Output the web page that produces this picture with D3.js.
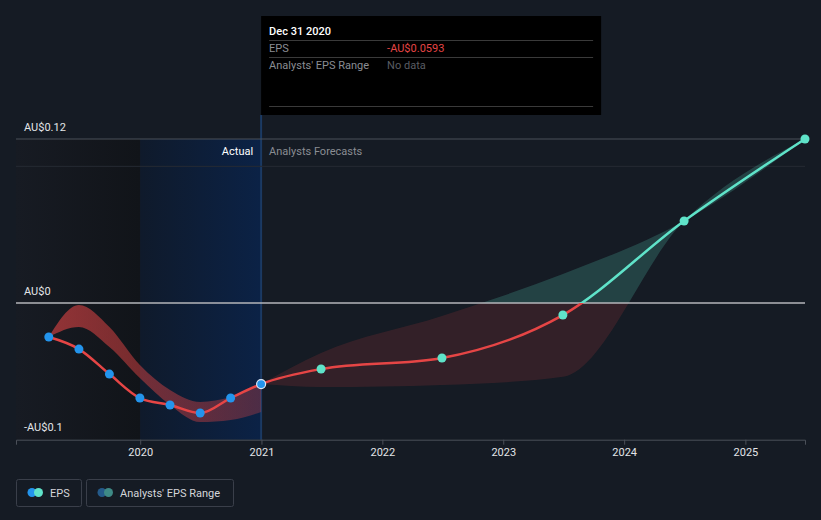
<html><head>
<meta charset="utf-8">
<title>EPS chart</title>
<style>
  body {
    margin: 0;
    background-color: #151b24;
    font-family: Roboto, "Open Sans", sans-serif;
  }
  svg { display: block; }
  .ylab { fill: #e3e5e8; font-size: 11px; }
  .legend-text { fill: #d4d6da; font-size: 11px; }
</style>
<script src="https://d3js.org/d3.v7.min.js"></script>
</head>
<body>
<svg id="chart" width="821" height="520"></svg>
<script>
// actual EPS, quarterly
const actualDates = ["2019-03-31", "2019-06-30", "2019-09-30", "2019-12-31", "2020-03-31", "2020-06-30", "2020-09-30", "2020-12-31"];
const actualEps = [-0.0249, -0.0337, -0.052, -0.0695, -0.0746, -0.0805, -0.0695, -0.0593];
const actualLow = [-0.0249, -0.0176, -0.0322, -0.0549, -0.0746, -0.0871, -0.0856, -0.0798];
const actualHigh = [-0.0249, -0.0015, -0.0176, -0.0454, -0.0637, -0.0724, -0.0688, -0.0600];

// analyst forecasts
const forecastDates = ["2020-12-31", "2021-06-30", "2022-06-30", "2023-06-30", "2024-06-30", "2025-06-30"];
const forecastEps = [-0.0593, -0.0483, -0.0402, -0.0088, 0.06, 0.12];
const forecastLow = [-0.0593, -0.0615, -0.0600, -0.0540, 0.06, 0.12];
const forecastHigh = [-0.0593, -0.0366, -0.0095, 0.0212, 0.06, 0.12];

const yTicks = [0.12, 0, -0.1];
const yTickLabels = ["AU$0.12", "AU$0", "-AU$0.1"];
const yGrid = [0.1];
const xTickYears = [2020, 2021, 2022, 2023, 2024, 2025];

const RED = "#e64545", TEAL = "#5fe3c9", BLUE = "#2394ec";
const parse = d3.timeParse("%Y-%m-%d");

const svg = d3.select("#chart");
const pL = 16, pR = 805, pT = 139, pB = 439.7;

const x = d3.scaleTime()
  .domain([parse("2018-12-22"), parse("2025-06-30")])
  .range([pL, pR]);
const y = d3.scaleLinear()
  .domain([-0.1, 0.12])
  .range([pB, pT]);

const actual = actualDates.map((d, i) => ({date: parse(d), v: actualEps[i], lo: actualLow[i], hi: actualHigh[i]}));
const forecast = forecastDates.map((d, i) => ({date: parse(d), v: forecastEps[i], lo: forecastLow[i], hi: forecastHigh[i]}));
const nowX = x(parse("2020-12-31"));
const y0 = y(0);

const defs = svg.append("defs");

function hGrad(id, stops) {
  const g = defs.append("linearGradient").attr("id", id)
    .attr("x1", "0%").attr("x2", "100%").attr("y1", "0%").attr("y2", "0%");
  stops.forEach(s => g.append("stop").attr("offset", s[0]).attr("stop-color", s[1]).attr("stop-opacity", s[2]));
}
hGrad("pastGrad", [["0%", "#171b23", 1], ["100%", "#111419", 1]]);
hGrad("actualGrad", [["0%", "#0f1a2b", 1], ["100%", "#0b2246", 1]]);
hGrad("bandGrad", [["0%", "#e64545", 0.6], ["100%", "#e64545", 0.3]]);

// line colour split at zero
const lg = defs.append("linearGradient").attr("id", "lineGrad")
  .attr("gradientUnits", "userSpaceOnUse")
  .attr("x1", 0).attr("x2", 0).attr("y1", pT).attr("y2", pB);
const off = (y0 - pT) / (pB - pT);
lg.append("stop").attr("offset", off).attr("stop-color", TEAL);
lg.append("stop").attr("offset", off).attr("stop-color", RED);

defs.append("clipPath").attr("id", "clipAbove").append("rect")
  .attr("x", pL).attr("y", 0).attr("width", pR - pL + 10).attr("height", y0);
defs.append("clipPath").attr("id", "clipBelow").append("rect")
  .attr("x", pL).attr("y", y0).attr("width", pR - pL + 10).attr("height", 200);

// background regions
const x2020 = x(parse("2020-01-01"));
svg.append("rect").attr("x", pL).attr("y", pT).attr("width", x2020 - pL)
  .attr("height", pB - pT).attr("fill", "url(#pastGrad)");
svg.append("rect").attr("x", x2020).attr("y", pT)
  .attr("width", nowX - x2020).attr("height", pB - pT).attr("fill", "url(#actualGrad)");
svg.append("line").attr("x1", nowX).attr("x2", nowX).attr("y1", 115).attr("y2", pB)
  .attr("stroke", "#1b3a63").attr("stroke-width", 2);

// grid lines
svg.selectAll(".grid").data(yGrid).join("line")
  .attr("x1", pL).attr("x2", pR).attr("y1", d => y(d)).attr("y2", d => y(d))
  .attr("stroke", "#262b33").attr("stroke-width", 1);
svg.append("line").attr("x1", pL).attr("x2", pR).attr("y1", y(0.12)).attr("y2", y(0.12))
  .attr("stroke", "#4b5059").attr("stroke-width", 1);

// axis at bottom
const xAxis = svg.append("g").attr("transform", `translate(0,${pB})`)
  .call(d3.axisBottom(x).tickValues(xTickYears.map(yr => new Date(yr, 0, 1)))
    .tickFormat(d3.timeFormat("%Y")).tickSizeOuter(0).tickSize(5).tickPadding(4));
xAxis.select(".domain").attr("stroke", "#4b5059");
xAxis.selectAll(".tick line").attr("stroke", "#4b5059");
xAxis.selectAll(".tick text").attr("fill", "#e3e5e8")
  .style("font-family", "Roboto, sans-serif").style("font-size", "11px");

// bands
const area = d3.area().x(d => x(d.date)).y0(d => y(d.lo)).y1(d => y(d.hi)).curve(d3.curveMonotoneX);
svg.append("path").datum(actual).attr("d", area).attr("fill", "url(#bandGrad)");
svg.append("path").datum(forecast).attr("d", area).attr("fill", RED).attr("fill-opacity", 0.15)
  .attr("clip-path", "url(#clipBelow)");
svg.append("path").datum(forecast).attr("d", area).attr("fill", TEAL).attr("fill-opacity", 0.2)
  .attr("clip-path", "url(#clipAbove)");

// zero line
svg.append("line").attr("x1", pL).attr("x2", pR).attr("y1", y0).attr("y2", y0)
  .attr("stroke", "#b4b6ba").attr("stroke-width", 1.5);

// y labels
svg.selectAll(".ylab").data(yTicks).join("text").attr("class", "ylab")
  .attr("x", 24).attr("y", d => y(d) - 8.5).text((d, i) => yTickLabels[i]);

// EPS line
const line = d3.line().x(d => x(d.date)).y(d => y(d.v)).curve(d3.curveMonotoneX);
svg.append("path").datum(actual.concat(forecast.slice(1))).attr("d", line)
  .attr("fill", "none").attr("stroke", "url(#lineGrad)").attr("stroke-width", 2.5);

// points
svg.selectAll(".pa").data(actual.slice(0, -1)).join("circle")
  .attr("cx", d => x(d.date)).attr("cy", d => y(d.v)).attr("r", 4.5).attr("fill", BLUE);
svg.selectAll(".pf").data(forecast.slice(1)).join("circle")
  .attr("cx", d => x(d.date)).attr("cy", d => y(d.v)).attr("r", 4.5).attr("fill", TEAL);
const last = actual[actual.length - 1];
svg.append("circle").attr("cx", x(last.date)).attr("cy", y(last.v)).attr("r", 4.5)
  .attr("fill", BLUE).attr("stroke", "#dfe8f5").attr("stroke-width", 1.2);

// section labels
svg.append("text").attr("x", nowX - 8).attr("y", 155).attr("text-anchor", "end")
  .attr("fill", "#ffffff").style("font-size", "11px").text("Actual");
svg.append("text").attr("x", nowX + 8).attr("y", 155)
  .attr("fill", "#8a8d93").style("font-size", "11px").text("Analysts Forecasts");

// tooltip
const tip = svg.append("g");
tip.append("rect").attr("x", nowX).attr("y", 16).attr("width", 340).attr("height", 99).attr("fill", "#000");
tip.append("text").attr("x", nowX + 8).attr("y", 35).attr("fill", "#fff")
  .style("font-size", "11px").style("font-weight", 500).text("Dec 31 2020");
[40.5, 57.5, 106.5].forEach(ly => tip.append("line").attr("x1", nowX + 8).attr("x2", nowX + 332)
  .attr("y1", ly).attr("y2", ly).attr("stroke", "#3a3a3a"));
tip.append("text").attr("x", nowX + 8).attr("y", 52).attr("fill", "#8a8d93").style("font-size", "11px").text("EPS");
tip.append("text").attr("x", nowX + 126).attr("y", 52).attr("fill", "#e64545").style("font-size", "11px").text("-AU$0.0593");
tip.append("text").attr("x", nowX + 8).attr("y", 69).attr("fill", "#8a8d93").style("font-size", "11px").text("Analysts' EPS Range");
tip.append("text").attr("x", nowX + 126).attr("y", 69).attr("fill", "#5a5d63").style("font-size", "11px").text("No data");

// legend
const legend = [
  {label: "EPS", x: 16, w: 65, c1: BLUE, c2: TEAL},
  {label: "Analysts' EPS Range", x: 86, w: 147, c1: "#245a8a", c2: "#3e8a86"}
];
const lgnd = svg.selectAll(".lg").data(legend).join("g");
lgnd.append("rect").attr("x", d => d.x + 0.5).attr("y", 479.5).attr("width", d => d.w).attr("height", 27)
  .attr("rx", 2).attr("fill", "none").attr("stroke", "#3a3f4a");
lgnd.append("circle").attr("cx", d => d.x + 16).attr("cy", 492.5).attr("r", 4.5).attr("fill", d => d.c1);
lgnd.append("circle").attr("cx", d => d.x + 22.5).attr("cy", 492.5).attr("r", 4.5).attr("fill", d => d.c2);
lgnd.append("text").attr("class", "legend-text").attr("x", d => d.x + 34).attr("y", 496.5).text(d => d.label);
</script>
</body></html>
